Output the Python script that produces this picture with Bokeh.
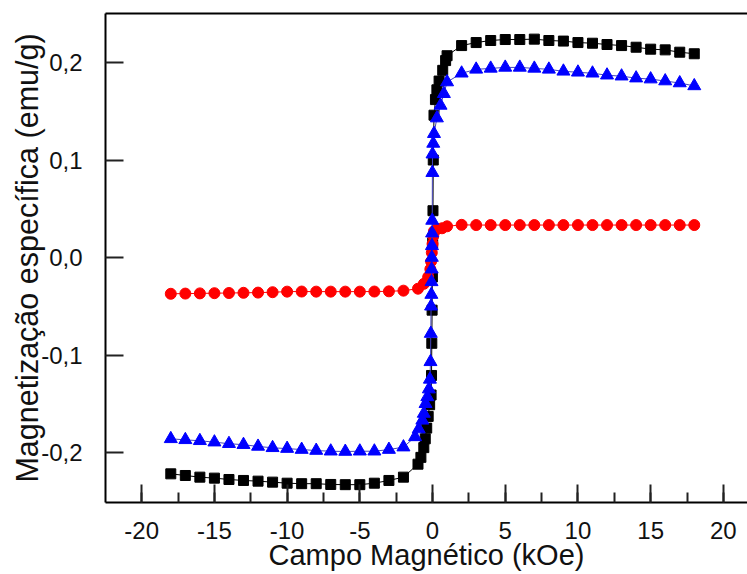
from bokeh.plotting import figure
from bokeh.models import Range1d, LinearAxis, FixedTicker, SingleIntervalTicker, CustomJSTickFormatter
from bokeh.embed import file_html
from bokeh.resources import INLINE

# Field values (kOe) for the high-field steps, shared by all three samples
field_neg = [-18, -17, -16, -15, -14, -13, -12, -11, -10, -9, -8, -7, -6, -5, -4, -3, -2]
field_pos = [2, 3, 4, 5, 6, 7, 8, 9, 10, 11, 12, 13, 14, 15, 16, 17, 18]

# Sample A (black squares)
a_neg = [-0.2219, -0.2236, -0.2253, -0.2263, -0.2277, -0.2287, -0.2294, -0.2304, -0.2315,
         -0.2320, -0.2320, -0.2328, -0.2330, -0.2330, -0.2315, -0.2287, -0.2253]
a_mid_x = [-1.0, -0.8, -0.6, -0.5, -0.4, -0.3, -0.2, -0.1, -0.07, -0.05, -0.03, -0.01,
           0.01, 0.03, 0.05, 0.1, 0.2, 0.3, 0.45, 0.7, 0.9, 1.0]
a_mid_y = [-0.212, -0.205, -0.195, -0.186, -0.175, -0.163, -0.151, -0.141, -0.121, -0.088,
           -0.054, -0.020, 0.015, 0.048, 0.100, 0.146, 0.162, 0.172, 0.181, 0.192, 0.202, 0.207]
a_pos = [0.2174, 0.2205, 0.2226, 0.2236, 0.2236, 0.2240, 0.2226, 0.2220, 0.2205,
         0.2198, 0.2185, 0.2174, 0.2157, 0.2137, 0.2130, 0.2106, 0.2090]

# Sample B (blue triangles)
b_neg = [-0.1860, -0.1870, -0.1880, -0.1894, -0.1910, -0.1920, -0.1938, -0.1952, -0.1960,
         -0.1970, -0.1980, -0.1987, -0.1990, -0.1987, -0.1987, -0.1970, -0.1945]
b_mid_x = [-1.2, -0.95, -0.7, -0.6, -0.48, -0.36, -0.25, -0.18, -0.14, -0.12, -0.10, -0.08,
           -0.07, -0.06, -0.05, -0.04, -0.03, -0.02, -0.01, 0.0, 0.05, 0.1, 0.3, 0.55, 0.78, 1.0]
b_mid_y = [-0.184, -0.176, -0.167, -0.160, -0.150, -0.143, -0.135, -0.125, -0.107, -0.078,
           -0.050, -0.038, -0.025, -0.012, 0.000, 0.012, 0.025, 0.038, 0.087, 0.106, 0.117,
           0.127, 0.143, 0.156, 0.168, 0.180]
b_pos = [0.189, 0.193, 0.194, 0.195, 0.195, 0.194, 0.193, 0.191, 0.190,
         0.189, 0.187, 0.186, 0.184, 0.183, 0.181, 0.179, 0.176]

# Sample C (red circles)
c_neg = [-0.0372, -0.0370, -0.0368, -0.0366, -0.0364, -0.0362, -0.0360, -0.0356, -0.0350,
         -0.0349, -0.0350, -0.0350, -0.0350, -0.0350, -0.0349, -0.0347, -0.0340]
c_mid_x = [-1.0, -0.6, -0.3, -0.15, -0.1, -0.05, 0.0, 0.05, 0.1, 0.3, 0.65, 1.0]
c_mid_y = [-0.032, -0.027, -0.020, -0.012, -0.004, 0.005, 0.014, 0.022, 0.027, 0.029, 0.030, 0.032]
c_pos = [0.0335, 0.0333, 0.0333, 0.0333, 0.0333, 0.0333, 0.0333, 0.0333, 0.0333,
         0.0333, 0.0333, 0.0333, 0.0333, 0.0333, 0.0333, 0.0333, 0.0333]

y_ticks = [-0.2, -0.1, 0.0, 0.1, 0.2]

FONT = "Liberation Sans"

p = figure(width=747, height=574, output_backend="svg", toolbar_location=None,
           x_range=Range1d(-22.49, 21.66), y_range=Range1d(-0.2513, 0.2503),
           min_border_left=105, min_border_right=0, min_border_top=13, min_border_bottom=72)
p.outline_line_color = None
p.xgrid.visible = False
p.ygrid.visible = False
p.background_fill_color = "white"
p.border_fill_color = "white"


def series(xn, yn, xm, ym, xp, yp):
    return xn + xm + xp, yn + ym + yp


ax_, ay_ = series(field_neg, a_neg, a_mid_x, a_mid_y, field_pos, a_pos)
bx_, by_ = series(field_neg, b_neg, b_mid_x, b_mid_y, field_pos, b_pos)
cx_, cy_ = series(field_neg, c_neg, c_mid_x, c_mid_y, field_pos, c_pos)

p.line(ax_, ay_, line_color="black", line_width=1)
p.scatter(ax_, ay_, marker="square", size=10, fill_color="black", line_color="black")
p.line(cx_, cy_, line_color="#ff0000", line_width=1)
p.scatter(cx_, cy_, marker="circle", size=11, fill_color="#ff0000", line_color="#ff0000")
p.line(bx_, by_, line_color="#4444bb", line_width=1)
p.scatter(bx_, by_, marker="triangle", size=13, fill_color="#0000ff", line_color="#0000ff")

# bottom axis
xa = p.xaxis[0]
xa.ticker = SingleIntervalTicker(interval=5, num_minor_ticks=2)
xa.formatter = CustomJSTickFormatter(code="return String(tick);")
xa.axis_label = "Campo Magnético (kOe)"
# left axis
ya = p.yaxis[0]
ya.ticker = FixedTicker(ticks=y_ticks)
ya.formatter = CustomJSTickFormatter(code="return tick.toFixed(1).replace('.', ',');")
ya.axis_label = "Magnetização específica (emu/g)"

for ax in (xa, ya):
    ax.axis_line_width = 2
    ax.axis_line_color = "black"
    ax.major_tick_in = 18
    ax.major_tick_out = 0
    ax.major_tick_line_width = 2
    ax.major_tick_line_color = "#222222"
    ax.minor_tick_out = 0
    ax.minor_tick_line_width = 2
    ax.minor_tick_line_color = "#222222"
    ax.major_label_text_font = FONT
    ax.major_label_text_font_size = "24px"
    ax.major_label_text_color = "#111111"
    ax.axis_label_text_font = FONT
    ax.axis_label_text_font_style = "normal"
    ax.axis_label_text_color = "#111111"

xa.minor_tick_in = 10
ya.minor_tick_in = 0
xa.major_label_standoff = 19
ya.major_label_standoff = 23
xa.axis_label_text_font_size = "29px"
ya.axis_label_text_font_size = "30.5px"
xa.axis_label_standoff = -3
ya.axis_label_standoff = -6

# top border line
top = LinearAxis(ticker=FixedTicker(ticks=[]), axis_line_width=2, axis_line_color="black",
                 major_tick_in=0, major_tick_out=0, minor_tick_in=0, minor_tick_out=0,
                 major_label_standoff=0)
p.add_layout(top, "above")

open("out.html", "w").write(file_html(p, INLINE))
